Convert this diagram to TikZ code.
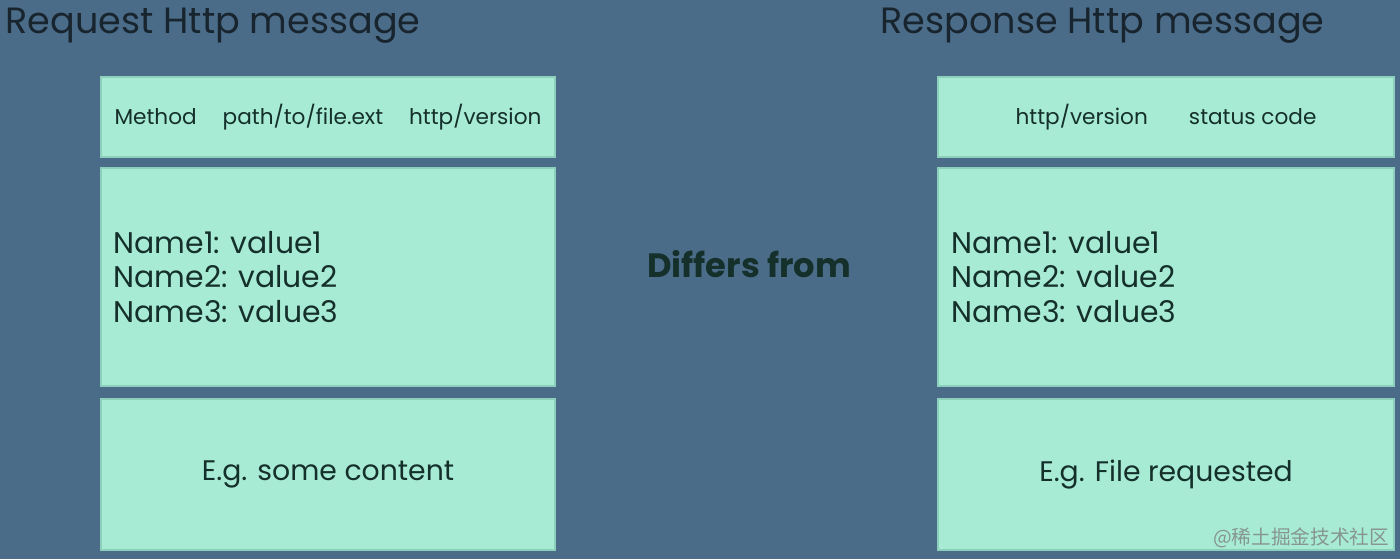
\documentclass[tikz,border=0pt]{standalone}
\usepackage{fontspec}
\setmainfont{Poppins}
\newfontfamily\cjkfont{Noto Sans CJK SC}
\definecolor{board}{HTML}{4B6C88}
\definecolor{mint}{HTML}{A7EBD5}
\definecolor{mintedge}{HTML}{8CCFBA}
\definecolor{ink}{HTML}{15302A}
\definecolor{titleink}{HTML}{18242E}

\tikzset{
  msgbox/.style={draw=mintedge, fill=mint, line width=0.4pt, inner sep=0pt},
  title/.style={text=titleink, font=\fontsize{10.4}{12}\selectfont, inner sep=0pt},
  small/.style={text=ink, font=\fontsize{6.15}{8}\selectfont, inner sep=0pt},
  fields/.style={text=ink, font=\fontsize{8.5}{9.8}\selectfont, align=left, inner sep=0pt},
  content/.style={text=ink, font=\fontsize{8.05}{10}\selectfont, inner sep=0pt}
}

\begin{document}
\begin{tikzpicture}
        \useasboundingbox[fill=board] (0,0) rectangle (14,5.59);
        % Request
        \node[title, anchor=west] (reqtitle) at (0.05,5.33) {Request Http message};
        \node[msgbox, minimum width=4.54cm, minimum height=0.80cm] (reqline) at (3.28,4.42) {};
        \node[msgbox, minimum width=4.54cm, minimum height=2.18cm] (reqhead) at (3.28,2.82) {};
        \node[msgbox, minimum width=4.54cm, minimum height=1.51cm] (reqbody) at (3.28,0.845) {};
        \node[small] (reqlinetext) at (reqline) {Method\hspace{1.2em}path/to/file.ext\hspace{1.2em}http/version};
        \node[fields, anchor=west] (reqfields) at (1.13,2.82) {Name1: value1\\Name2: value2\\Name3: value3};
        \node[content] (reqcontent) at (reqbody) {E.g. some content};
        % Middle
        \node[content, font=\fontsize{9.6}{12}\selectfont\bfseries] (differs) at (7.49,2.95) {Differs from};
        % Response
        \node[title, anchor=west] (restitle) at (8.80,5.33) {Response Http message};
        \node[msgbox, minimum width=4.56cm, minimum height=0.80cm] (resline) at (11.66,4.42) {};
        \node[msgbox, minimum width=4.56cm, minimum height=2.18cm] (reshead) at (11.66,2.82) {};
        \node[msgbox, minimum width=4.56cm, minimum height=1.51cm] (resbody) at (11.66,0.845) {};
        \node[small] (reslinetext) at (resline) {http/version\hspace{1.9em}status code};
        \node[fields, anchor=west] (resfields) at (9.51,2.82) {Name1: value1\\Name2: value2\\Name3: value3};
        \node[content] (rescontent) at (resbody) {E.g. File requested};
        % watermark
        \node[text=gray!80!mint, font=\cjkfont\fontsize{5.6}{6}\selectfont, anchor=east, inner sep=0pt] (mark) at (13.90,0.21) {@稀土掘金技术社区};
\end{tikzpicture}
\end{document}
